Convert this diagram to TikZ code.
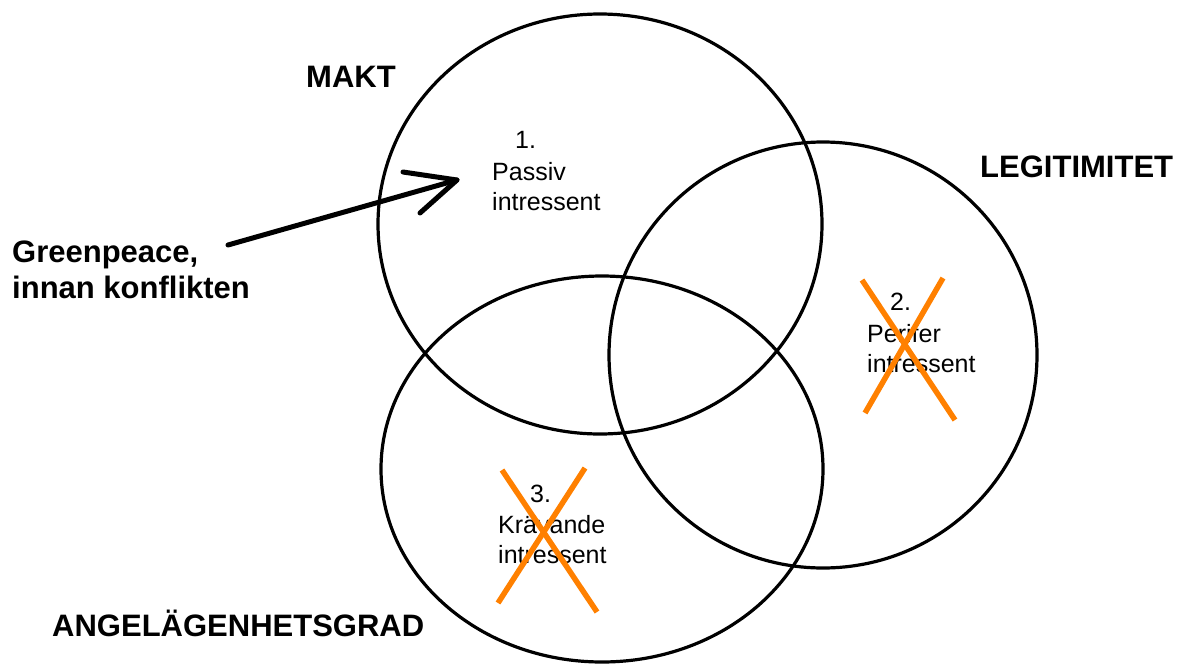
\documentclass[tikz,border=0pt]{standalone}
\usepackage{fontspec}
\setmainfont{Liberation Sans}
\definecolor{crossorange}{RGB}{255,128,0}
\begin{document}
\begin{tikzpicture}[x=1pt,y=-1pt,
  ring/.style={draw=black, line width=3.2pt},
  heading/.style={font=\fontsize{31}{36}\selectfont\bfseries, anchor=base west, inner sep=0pt},
  note/.style={font=\fontsize{25}{30}\selectfont, anchor=base west, inner sep=0pt},
  cross/.style={draw=crossorange, line width=5.5pt},
  pointer/.style={draw=black, line width=5pt, line cap=round, line join=round}]
\useasboundingbox (0,0) rectangle (1180,664);

% the three overlapping sets
\draw[ring] (600,224) ellipse [x radius=222, y radius=210];
\draw[ring] (823,355) ellipse [x radius=214, y radius=213];
\draw[ring] (602,469) ellipse [x radius=221, y radius=193];

% set names
\node[heading] (makt) at (306,87) {MAKT};
\node[heading] (legit) at (980,177) {LEGITIMITET};
\node[heading] (angel) at (52,636) {ANGELÄGENHETSGRAD};

% region 1
\node[note] (n1) at (515,148) {1.};
\node[note] (p1) at (492,180) {Passiv};
\node[note] (i1) at (492,210) {intressent};

% region 2
\node[note] (n2) at (890,310) {2.};
\node[note] (p2) at (867,342) {Perifer};
\node[note] (i2) at (867,372) {intressent};

% region 3
\node[note] (n3) at (530,502) {3.};
\node[note] (k3) at (498,533) {Krävande};
\node[note] (i3) at (498,563) {intressent};

% crossed out regions
\coordinate (x2a) at (862,280); \coordinate (x2b) at (955,420);
\coordinate (x2c) at (943,278); \coordinate (x2d) at (865,413);
\draw[cross] (x2a) -- (x2b);
\draw[cross] (x2c) -- (x2d);
\coordinate (x3a) at (502,470); \coordinate (x3b) at (597,612);
\coordinate (x3c) at (585,468); \coordinate (x3d) at (498,603);
\draw[cross] (x3a) -- (x3b);
\draw[cross] (x3c) -- (x3d);

% Greenpeace label and its hand-drawn pointer
\node[heading] (gp1) at (12,262) {Greenpeace,};
\node[heading] (gp2) at (12,298) {innan konflikten};
\coordinate (gpTail) at (228,245);
\coordinate (gpTip) at (457,180);
\coordinate (barbA) at (403,172);
\coordinate (barbB) at (420,213);
\draw[pointer] (gpTail) -- (gpTip);
\draw[pointer] (barbA) -- (gpTip) -- (barbB);
\end{tikzpicture}
\end{document}
